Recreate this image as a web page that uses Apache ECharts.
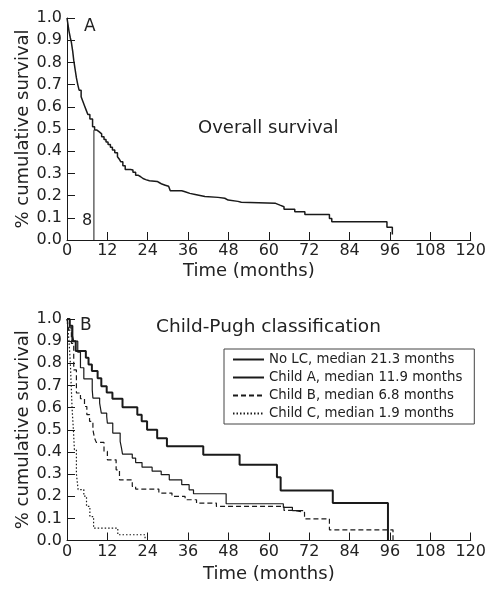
<!DOCTYPE html>
<html>
<head>
<meta charset="utf-8">
<script src="https://cdn.jsdelivr.net/npm/echarts@6/dist/echarts.min.js"></script>
<style>html,body{margin:0;padding:0;background:#fff}#c{width:489px;height:589px}</style>
</head>
<body>
<div id="c"></div>
<script>
// ---- Data ----
const xTicks = [0, 12, 24, 36, 48, 60, 72, 84, 96, 108, 120];
const yTicks = [0.0, 0.1, 0.2, 0.3, 0.4, 0.5, 0.6, 0.7, 0.8, 0.9, 1.0];

// Panel A: overall survival (Kaplan-Meier steps)
const overallTime = [0, 0.3, 0.6, 1.0, 1.3, 1.7, 2.0, 2.4, 2.8, 3.2, 3.6, 4.2, 4.7, 5.2, 5.7, 6.2, 6.8, 7.6, 8.2, 8.9, 9.6, 10.3, 11.0, 11.6, 12.2, 12.9, 13.5, 14.2, 15.0, 15.5, 16.0, 16.6, 17.3, 18.9, 19.6, 20.4, 21.1, 21.9, 22.6, 23.4, 24.5, 26.8, 27.5, 28.2, 29.2, 30.2, 30.7, 34.1, 35.1, 36.5, 38.1, 41.0, 44.9, 46.9, 47.9, 50.8, 51.8, 62.0, 63.3, 64.5, 67.7, 70.7, 78.0, 78.7, 95.1, 96.7];
const overallSurv = [1.0, 0.97, 0.94, 0.91, 0.89, 0.85, 0.81, 0.77, 0.73, 0.70, 0.675, 0.645, 0.625, 0.605, 0.585, 0.565, 0.545, 0.51, 0.495, 0.487, 0.478, 0.465, 0.453, 0.442, 0.43, 0.418, 0.405, 0.393, 0.375, 0.365, 0.352, 0.335, 0.318, 0.315, 0.305, 0.292, 0.285, 0.277, 0.272, 0.267, 0.264, 0.258, 0.252, 0.247, 0.242, 0.234, 0.222, 0.217, 0.21, 0.205, 0.196, 0.192, 0.188, 0.18, 0.174, 0.17, 0.165, 0.157, 0.15, 0.138, 0.127, 0.115, 0.097, 0.082, 0.057, 0.025];
const medianTime = 8;
const medianSurv = 0.495;

// Panel B: Child-Pugh classification
const seriesNames = ["No LC, median 21.3 months", "Child A, median 11.9 months", "Child B, median 6.8 months", "Child C, median 1.9 months"];
const noLcTime = [0, 0.8, 1.6, 2.6, 5.6, 6.4, 7.4, 9.1, 10.2, 11.8, 13.5, 16.5, 20.9, 22.2, 23.8, 26.8, 29.7, 40.5, 51.3, 62.4, 63.5, 79.0, 95.4];
const noLcSurv = [1.0, 0.97, 0.90, 0.855, 0.825, 0.795, 0.765, 0.733, 0.696, 0.668, 0.64, 0.602, 0.568, 0.538, 0.50, 0.462, 0.425, 0.387, 0.342, 0.286, 0.226, 0.169, 0];
const childATime = [0, 0.8, 1.5, 2.0, 3.2, 4.0, 5.0, 7.5, 7.7, 9.7, 10.2, 11.8, 12.0, 13.6, 15.8, 16.2, 16.5, 19.4, 20.4, 22.3, 25.3, 28.0, 30.4, 34.1, 36.3, 37.6, 47.3, 64.3, 67.0, 70.2];
const childASurv = [1.0, 0.96, 0.93, 0.90, 0.85, 0.78, 0.73, 0.68, 0.643, 0.62, 0.575, 0.56, 0.53, 0.485, 0.447, 0.417, 0.39, 0.372, 0.352, 0.331, 0.313, 0.297, 0.274, 0.252, 0.229, 0.211, 0.166, 0.15, 0.135, 0.135];
const childBTime = [0, 0.5, 1.3, 2.0, 2.8, 4.0, 5.2, 5.9, 6.7, 7.7, 8.2, 8.7, 11.0, 12.0, 14.6, 15.6, 19.4, 20.4, 27.3, 31.2, 35.1, 38.5, 44.4, 64.5, 67.5, 70.6, 78.0, 96.9];
const childBSurv = [1.0, 0.95, 0.89, 0.77, 0.666, 0.64, 0.605, 0.568, 0.538, 0.50, 0.462, 0.443, 0.402, 0.364, 0.319, 0.274, 0.244, 0.232, 0.214, 0.199, 0.184, 0.169, 0.154, 0.136, 0.127, 0.098, 0.048, 0];
const childCTime = [0, 0.3, 0.6, 1.0, 1.5, 1.9, 2.2, 2.8, 3.3, 5.0, 5.8, 6.8, 7.9, 15.1, 23.2];
const childCSurv = [1.0, 0.95, 0.90, 0.80, 0.60, 0.50, 0.41, 0.30, 0.23, 0.20, 0.154, 0.108, 0.056, 0.026, 0];

// ---- Helpers ----
const zip = (a, b) => a.map((v, i) => [v, b[i]]);
const FONT = "DejaVu Sans";
const TXT = "#222";
const INK = "#1a1a1a";

function xAxisCfg(gridIndex, namePad, gap) {
  return {
    type: "value", gridIndex, min: xTicks[0], max: xTicks[xTicks.length - 1], interval: 12,
    name: "Time (months)", nameLocation: "middle", nameGap: gap, nameMoveOverlap: false,
    nameTextStyle: { fontFamily: FONT, fontSize: 18, color: TXT, padding: namePad },
    axisLine: { show: true, onZero: false, lineStyle: { color: INK, width: 1 } },
    axisTick: { show: true, inside: true, length: 8, lineStyle: { color: INK } },
    axisLabel: { fontFamily: FONT, fontSize: 16, color: TXT, margin: 3 },
    splitLine: { show: false }
  };
}
function yAxisCfg(gridIndex) {
  return {
    type: "value", gridIndex, min: yTicks[0], max: yTicks[yTicks.length - 1], interval: 0.1,
    name: "% cumulative survival", nameLocation: "middle", nameGap: 35, nameRotate: 90,
    nameMoveOverlap: false,
    nameTextStyle: { fontFamily: FONT, fontSize: 18, color: TXT },
    axisLine: { show: true, lineStyle: { color: INK, width: 1 } },
    axisTick: { show: true, inside: true, length: 8, lineStyle: { color: INK } },
    axisLabel: { fontFamily: FONT, fontSize: 16, color: TXT, margin: 5, formatter: v => v.toFixed(1) },
    splitLine: { show: false }
  };
}
function km(name, t, s, gi, style) {
  return {
    name, type: "line", step: "end", xAxisIndex: gi, yAxisIndex: gi,
    data: zip(t, s), symbol: "none", showSymbol: false, silent: true, animation: false,
    itemStyle: { color: INK },
    lineStyle: Object.assign({ color: INK, width: 1.2, type: "solid" }, style)
  };
}

const chart = echarts.init(document.getElementById("c"), null, { renderer: "canvas" });
chart.setOption({
  backgroundColor: "#fff",
  animation: false,
  color: [INK, INK, INK, INK, INK, INK],
  title: [
    { text: "A", left: 84, top: 18, textStyle: { fontFamily: FONT, fontSize: 17, fontWeight: "normal", color: TXT }, padding: 0 },
    { text: "Overall survival", left: 198, top: 119, textStyle: { fontFamily: FONT, fontSize: 18, fontWeight: "normal", color: TXT }, padding: 0 },
    { text: "B", left: 80, top: 317, textStyle: { fontFamily: FONT, fontSize: 17, fontWeight: "normal", color: TXT }, padding: 0 },
    { text: "Child-Pugh classification", left: 156, top: 318, textStyle: { fontFamily: FONT, fontSize: 18.5, fontWeight: "normal", color: TXT }, padding: 0 }
  ],
  legend: {
    data: seriesNames, orient: "vertical", left: 224, top: 349,
    borderColor: "#444", borderWidth: 1, padding: [4, 12, 4, 8],
    itemWidth: 31, itemHeight: 14, itemGap: 5,
    itemStyle: { opacity: 0 },
    textStyle: { fontFamily: FONT, fontSize: 13.3, color: TXT },
    selectedMode: false
  },
  grid: [
    { left: 67, right: 14, top: 18, height: 222 },
    { left: 67, right: 14, top: 319, height: 221.5 }
  ],
  xAxis: [xAxisCfg(0, [0, 40, 0, 0], 22), xAxisCfg(1, [0, 0, 0, 0], 25)],
  yAxis: [yAxisCfg(0), yAxisCfg(1)],
  graphic: [
    { type: "text", left: 82, top: 213, style: { text: String(medianTime), fontFamily: FONT, fontSize: 16, fill: TXT } }
  ],
  series: [
    km("Overall", overallTime, overallSurv, 0, { width: 1.5 }),
    { name: "median", type: "line", xAxisIndex: 0, yAxisIndex: 0, data: [[medianTime, 0], [medianTime, medianSurv]],
      symbol: "none", silent: true, lineStyle: { color: INK, width: 1 } },
    km(seriesNames[0], noLcTime, noLcSurv, 1, { width: 2 }),
    km(seriesNames[1], childATime, childASurv, 1, { width: 1.2 }),
    km(seriesNames[2], childBTime, childBSurv, 1, { width: 1.2, type: [5, 3] }),
    km(seriesNames[3], childCTime, childCSurv, 1, { width: 1.2, type: [1.5, 2] })
  ]
});
</script>
</body>
</html>
